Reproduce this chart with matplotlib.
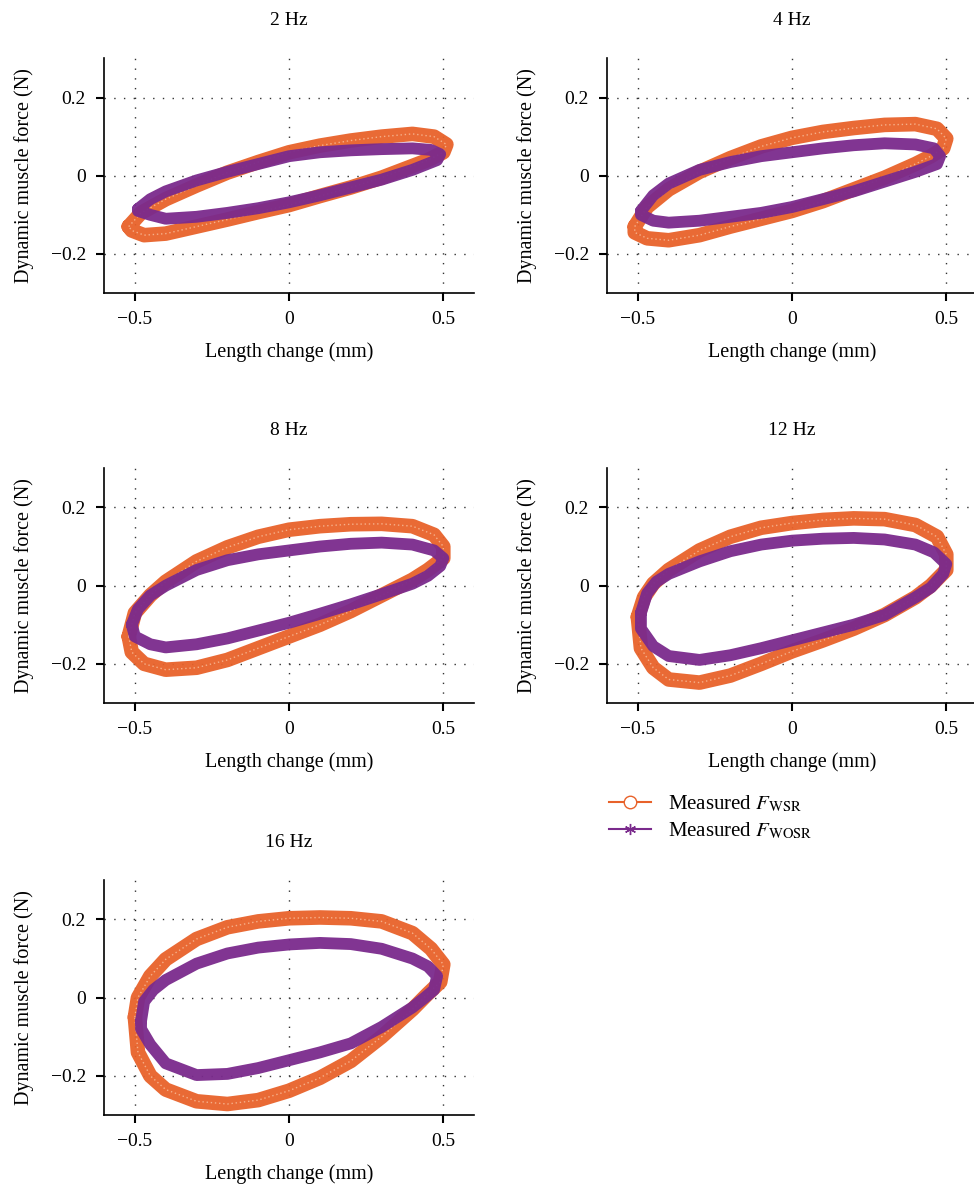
import matplotlib
matplotlib.use("Agg")
import matplotlib.pyplot as plt
from matplotlib.lines import Line2D

plt.rcParams["font.family"] = ["Liberation Serif", "DejaVu Serif"]
plt.rcParams["mathtext.fontset"] = "stix"

orange = "#E8622A"
purple = "#7A2A8C"

titles = ["2 Hz", "4 Hz", "8 Hz", "12 Hz", "16 Hz"]

# loops: upper branch left->right, lower branch right->left
wsr_up_x = [
    [-0.52, -0.48, -0.4, -0.3, -0.2, -0.1, 0.0, 0.1, 0.2, 0.3, 0.4, 0.47, 0.51],
    [-0.51, -0.47, -0.4, -0.3, -0.2, -0.1, 0.0, 0.1, 0.2, 0.3, 0.4, 0.47, 0.5],
    [-0.52, -0.5, -0.45, -0.4, -0.3, -0.2, -0.1, 0.0, 0.1, 0.2, 0.3, 0.4, 0.47, 0.5],
    [-0.5, -0.48, -0.45, -0.4, -0.3, -0.2, -0.1, 0.0, 0.1, 0.2, 0.3, 0.4, 0.47, 0.5],
    [-0.5, -0.49, -0.45, -0.4, -0.3, -0.2, -0.1, 0.0, 0.1, 0.2, 0.3, 0.4, 0.46, 0.5],
]
wsr_up_y = [
    [-0.13, -0.095, -0.06, -0.025, 0.008, 0.035, 0.06, 0.077, 0.09, 0.1, 0.107, 0.1, 0.08],
    [-0.13, -0.08, -0.035, 0.01, 0.045, 0.075, 0.097, 0.112, 0.122, 0.13, 0.132, 0.12, 0.095],
    [-0.13, -0.07, -0.025, 0.01, 0.062, 0.098, 0.125, 0.143, 0.152, 0.157, 0.158, 0.152, 0.13, 0.1],
    [-0.08, -0.03, 0.005, 0.04, 0.09, 0.125, 0.148, 0.16, 0.168, 0.172, 0.17, 0.155, 0.125, 0.08],
    [-0.05, 0.0, 0.055, 0.098, 0.15, 0.18, 0.195, 0.203, 0.205, 0.203, 0.195, 0.165, 0.125, 0.085],
]
wsr_lo_x = [
    [0.5, 0.45, 0.4, 0.3, 0.2, 0.1, 0.0, -0.1, -0.2, -0.3, -0.4, -0.47, -0.51, -0.52],
    [0.49, 0.45, 0.4, 0.3, 0.2, 0.1, 0.0, -0.1, -0.2, -0.3, -0.4, -0.47, -0.51, -0.51],
    [0.5, 0.45, 0.4, 0.3, 0.2, 0.1, 0.0, -0.1, -0.2, -0.3, -0.4, -0.47, -0.51, -0.52],
    [0.5, 0.45, 0.4, 0.3, 0.2, 0.1, 0.0, -0.1, -0.2, -0.3, -0.4, -0.45, -0.49, -0.5],
    [0.49, 0.45, 0.4, 0.3, 0.2, 0.1, 0.0, -0.1, -0.2, -0.3, -0.4, -0.45, -0.49, -0.5],
]
wsr_lo_y = [
    [0.06, 0.04, 0.025, -0.005, -0.03, -0.052, -0.075, -0.093, -0.112, -0.13, -0.148, -0.152, -0.14, -0.13],
    [0.07, 0.05, 0.03, -0.005, -0.035, -0.065, -0.09, -0.11, -0.13, -0.152, -0.165, -0.16, -0.145, -0.13],
    [0.07, 0.04, 0.015, -0.025, -0.065, -0.1, -0.13, -0.16, -0.19, -0.21, -0.215, -0.2, -0.17, -0.13],
    [0.04, 0.0, -0.03, -0.075, -0.11, -0.14, -0.168, -0.2, -0.23, -0.248, -0.24, -0.21, -0.16, -0.08],
    [0.04, 0.01, -0.03, -0.1, -0.162, -0.205, -0.238, -0.262, -0.272, -0.265, -0.235, -0.2, -0.14, -0.05],
]

wosr_up_x = [
    [-0.49, -0.45, -0.4, -0.3, -0.2, -0.1, 0.0, 0.1, 0.2, 0.3, 0.4, 0.46, 0.49],
    [-0.49, -0.45, -0.4, -0.3, -0.2, -0.1, 0.0, 0.1, 0.2, 0.3, 0.4, 0.46, 0.48],
    [-0.51, -0.49, -0.45, -0.4, -0.3, -0.2, -0.1, 0.0, 0.1, 0.2, 0.3, 0.4, 0.47, 0.5],
    [-0.49, -0.47, -0.44, -0.4, -0.3, -0.2, -0.1, 0.0, 0.1, 0.2, 0.3, 0.4, 0.46, 0.5],
    [-0.48, -0.47, -0.44, -0.4, -0.3, -0.2, -0.1, 0.0, 0.1, 0.2, 0.3, 0.4, 0.45, 0.48],
]
wosr_up_y = [
    [-0.085, -0.06, -0.04, -0.012, 0.01, 0.03, 0.05, 0.06, 0.065, 0.068, 0.07, 0.066, 0.055],
    [-0.09, -0.05, -0.02, 0.015, 0.035, 0.05, 0.06, 0.07, 0.078, 0.083, 0.08, 0.07, 0.05],
    [-0.1, -0.06, -0.025, 0.0, 0.04, 0.065, 0.08, 0.09, 0.1, 0.107, 0.11, 0.105, 0.09, 0.07],
    [-0.07, -0.02, 0.01, 0.03, 0.062, 0.088, 0.105, 0.115, 0.12, 0.122, 0.118, 0.105, 0.085, 0.055],
    [-0.06, -0.01, 0.02, 0.045, 0.087, 0.113, 0.128, 0.136, 0.14, 0.137, 0.125, 0.1, 0.08, 0.055],
]
wosr_lo_x = [
    [0.48, 0.4, 0.3, 0.2, 0.1, 0.0, -0.1, -0.2, -0.3, -0.4, -0.45, -0.49, -0.49],
    [0.47, 0.4, 0.3, 0.2, 0.1, 0.0, -0.1, -0.2, -0.3, -0.4, -0.45, -0.49, -0.49],
    [0.49, 0.45, 0.4, 0.3, 0.2, 0.1, 0.0, -0.1, -0.2, -0.3, -0.4, -0.45, -0.5, -0.51],
    [0.49, 0.45, 0.4, 0.3, 0.2, 0.1, 0.0, -0.1, -0.2, -0.3, -0.4, -0.45, -0.49, -0.49],
    [0.47, 0.44, 0.4, 0.3, 0.2, 0.1, 0.0, -0.1, -0.2, -0.3, -0.4, -0.45, -0.48, -0.48],
]
wosr_lo_y = [
    [0.04, 0.015, -0.01, -0.03, -0.05, -0.068, -0.083, -0.095, -0.105, -0.11, -0.1, -0.09, -0.085],
    [0.03, 0.01, -0.015, -0.04, -0.06, -0.08, -0.095, -0.105, -0.115, -0.12, -0.115, -0.1, -0.09],
    [0.05, 0.025, 0.005, -0.022, -0.048, -0.072, -0.095, -0.115, -0.135, -0.15, -0.158, -0.15, -0.13, -0.1],
    [0.03, -0.005, -0.03, -0.075, -0.1, -0.12, -0.14, -0.16, -0.178, -0.19, -0.18, -0.155, -0.11, -0.07],
    [0.02, 0.0, -0.025, -0.075, -0.117, -0.14, -0.16, -0.18, -0.195, -0.198, -0.168, -0.12, -0.08, -0.06],
]

# axes boxes in figure fractions [left, bottom, width, height]
boxes = [
    [0.1068, 0.7527, 0.380, 0.198],
    [0.6232, 0.7527, 0.380, 0.198],
    [0.1068, 0.4068, 0.380, 0.198],
    [0.6232, 0.4068, 0.380, 0.198],
    [0.1068, 0.0591, 0.380, 0.198],
]

fig = plt.figure(figsize=(9.74, 11.85), dpi=100)

for i in range(5):
    ax = fig.add_axes(boxes[i])
    wx = wsr_up_x[i] + wsr_lo_x[i]
    wy = wsr_up_y[i] + wsr_lo_y[i]
    ax.plot(wx, wy, color=orange, lw=10.5, solid_joinstyle="round",
            solid_capstyle="round", alpha=0.95)
    ax.plot(wx, wy, color="#F6B08A", lw=1, ls=(0, (1, 2)))
    ax.plot(wosr_up_x[i] + wosr_lo_x[i], wosr_up_y[i] + wosr_lo_y[i],
            color=purple, lw=8.5, solid_joinstyle="round", solid_capstyle="round", alpha=0.95)
    ax.set_xlim(-0.6, 0.6)
    ax.set_ylim(-0.3, 0.3)
    ax.set_xticks([-0.5, 0, 0.5])
    ax.set_xticklabels(["\u22120.5", "0", "0.5"])
    ax.set_yticks([-0.2, 0, 0.2])
    ax.set_yticklabels(["\u22120.2", "0", "0.2"])
    ax.grid(True, color="#333333", linestyle=(0, (1, 6)), linewidth=1)
    ax.set_axisbelow(True)
    for s in ["top", "right"]:
        ax.spines[s].set_visible(False)
    for s in ["left", "bottom"]:
        ax.spines[s].set_linewidth(1.2)
    ax.tick_params(direction="out", length=6, width=1.5, labelsize=14, pad=7)
    ax.set_xlabel("Length change (mm)", fontsize=14.5, labelpad=10)
    ax.set_ylabel("Dynamic muscle force (N)", fontsize=14.5, labelpad=12)
    ax.set_title(titles[i], fontsize=14, pad=24)

handles = [
    Line2D([], [], color=orange, lw=1.5, marker="o", markersize=9,
           markerfacecolor="white", markeredgecolor=orange),
    Line2D([], [], color=purple, lw=1.5, marker=(6, 2, 0), markersize=8,
           markeredgecolor=purple),
]
labels = [r"Measured $F_{\mathrm{WSR}}$", r"Measured $F_{\mathrm{WOSR}}$"]
fig.legend(handles, labels, loc="upper left", bbox_to_anchor=(0.617, 0.337),
           frameon=False, fontsize=15, handlelength=2.0, handletextpad=0.8,
           labelspacing=0.3, borderaxespad=0)

fig.savefig("out.png", dpi=100)
